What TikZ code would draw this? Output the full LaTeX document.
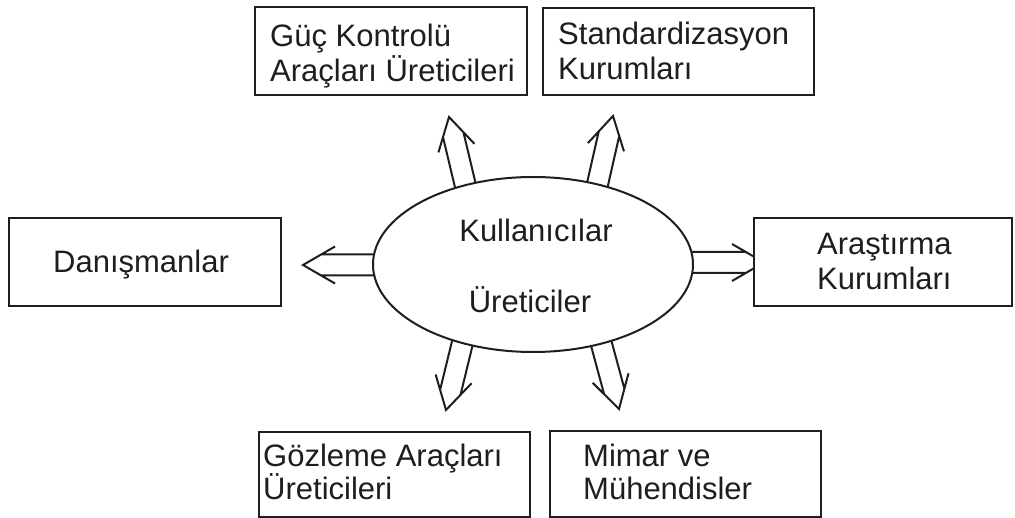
\documentclass[tikz,border=0pt]{standalone}
\usepackage{fontspec}
\setmainfont{Liberation Sans}
\usetikzlibrary{calc,shapes.geometric,backgrounds}

\definecolor{ink}{HTML}{1E1E1E}

\begin{document}
\begin{tikzpicture}[x=1pt,y=-1pt,
  box/.style={draw=ink, fill=white, line width=2.2pt, anchor=north west, inner sep=0pt},
  lbl/.style={font=\fontsize{31}{35}\selectfont, align=left, anchor=base west, inner sep=0pt, text=ink},
  lbltight/.style={lbl, font=\fontsize{31}{33}\selectfont},
  mid/.style={font=\fontsize{31}{35}\selectfont, anchor=base, inner sep=0pt, text=ink},
  % open double-line arrow from \tikztostart to its tip \tikztotarget
  dblarrow/.style={line width=2pt, draw=ink, line join=miter,
    to path={
      ($(\tikztostart)!10.5pt!90:(\tikztotarget)$) -- ($($(\tikztotarget)!18pt!(\tikztostart)$)!10.5pt!90:(\tikztotarget)$)
      ($(\tikztostart)!10.5pt!-90:(\tikztotarget)$) -- ($($(\tikztotarget)!18pt!(\tikztostart)$)!10.5pt!-90:(\tikztotarget)$)
      ($($(\tikztotarget)!32pt!(\tikztostart)$)!18.5pt!90:(\tikztostart)$) -- (\tikztotarget)
        -- ($($(\tikztotarget)!32pt!(\tikztostart)$)!18.5pt!-90:(\tikztostart)$)
    }},
]
\useasboundingbox (0,0) rectangle (1015,518);

% central ellipse
\node[ellipse, draw=ink, fill=white, line width=2pt, minimum width=320pt, minimum height=175pt, inner sep=0pt] (ell) at (533,264.5) {};
\node[mid] (kul) at (536,242) {Kullanıcılar};
\node[mid] (ure) at (530,313) {Üreticiler};

% surrounding boxes
\node[box, minimum width=272pt, minimum height=88pt] (guc) at (254,6) {};
\node[box, minimum width=271pt, minimum height=87pt] (std) at (542,7) {};
\node[box, minimum width=272pt, minimum height=88pt] (dan) at (8,217) {};
\node[box, minimum width=258pt, minimum height=88pt] (ara) at (753,217) {};
\node[box, minimum width=271pt, minimum height=85pt] (goz) at (258,431) {};
\node[box, minimum width=271pt, minimum height=86pt] (mim) at (549,430) {};

% box texts, placed by the baseline of their last line
\node[lbl] (gucT) at (270,82) {Güç Kontrolü\\Araçları Üreticileri};
\node[lbl] (stdT) at (558,80) {Standardizasyon\\Kurumları};
\node[lbl] (danT) at (53,273) {Danışmanlar};
\node[lbl] (araT) at (817,290) {Araştırma\\Kurumları};
\node[lbltight] (gozT) at (263,500) {Gözleme Araçları\\Üreticileri};
\node[lbltight] (mimT) at (583,500) {Mimar ve\\Mühendisler};

% arrow ends: start inside the ellipse, tip near each box
\coordinate (s1) at (470,205);   \coordinate (t1) at (449,117);
\coordinate (s2) at (593,204);   \coordinate (t2) at (613,116);
\coordinate (s3) at (395,265);   \coordinate (t3) at (303,265);
\coordinate (s4) at (673,262.5); \coordinate (t4) at (764,262.5);
\coordinate (s5) at (467,324);   \coordinate (t5) at (446,410);
\coordinate (s6) at (596,324);   \coordinate (t6) at (619,409);

\begin{scope}[on background layer]
  \draw[dblarrow] (s1) to (t1);
  \draw[dblarrow] (s2) to (t2);
  \draw[dblarrow] (s3) to (t3);
  \draw[dblarrow] (s4) to (t4);
  \draw[dblarrow] (s5) to (t5);
  \draw[dblarrow] (s6) to (t6);
\end{scope}
\end{tikzpicture}
\end{document}
